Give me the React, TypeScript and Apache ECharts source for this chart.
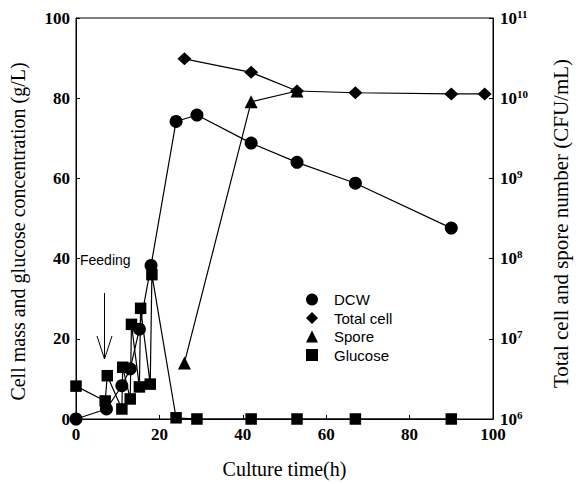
import React, { useEffect, useRef } from "react";
import * as echarts from "echarts";

const dcwTime = [0, 7.3, 11, 13, 15.2, 18, 24, 29, 42, 53, 67, 90];
const dcwValue = [0, 2.5, 8.3, 12.5, 22.4, 38.3, 74.2, 75.8, 68.8, 64, 58.8, 47.6];

const totalTime = [26, 42, 53, 67, 90, 98];
const totalValue = [3.1e10, 2.1e10, 1.23e10, 1.17e10, 1.13e10, 1.13e10];

const sporeTime = [26, 42, 53];
const sporeValue = [5e6, 9e9, 1.23e10];

const glucoseTime = [0, 7, 7.5, 11, 11.2, 13, 13.3, 15.2, 15.5, 17.8, 18.2, 24, 29, 42, 53, 67, 90];
const glucoseValue = [8.2, 4.5, 10.8, 2.5, 12.9, 5, 23.6, 8, 27.6, 8.7, 36, 0.3, 0, 0, 0, 0, 0];

const seriesNames = ["DCW", "Total cell", "Spore", "Glucose"];
const feedingLabel = "Feeding";

const zip = (t: number[], v: number[]) => t.map((x, i) => [x, v[i]]);

export default function App() {
  const ref = useRef<HTMLDivElement>(null);
  useEffect(() => {
    if (!ref.current) return;
    const chart = echarts.init(ref.current, undefined, { renderer: "svg" });
    const serif = "'Liberation Serif', 'Times New Roman', serif";
    const sans = "'Liberation Sans', Arial, sans-serif";
    const lineStyle = { color: "#000", width: 1.2 };
    const itemStyle = { color: "#000" };
    chart.setOption({
      animation: false,
      backgroundColor: "#fff",
      grid: {
        left: 72,
        right: 79,
        top: 18,
        bottom: 64,
        show: true,
        borderColor: "#000",
        borderWidth: 1,
      },
      legend: {
        orient: "vertical",
        left: 301,
        top: 287,
        itemWidth: 12,
        itemHeight: 12,
        itemGap: 3.5,
        textStyle: { fontFamily: sans, fontSize: 15, lineHeight: 14, color: "#000", padding: [0, 0, 0, 11] },
        data: [
          { name: seriesNames[0], icon: "circle" },
          { name: seriesNames[1], icon: "diamond" },
          { name: seriesNames[2], icon: "triangle" },
          { name: seriesNames[3], icon: "rect" },
        ],
      },
      xAxis: {
        type: "value",
        min: 0,
        max: 100,
        interval: 20,
        name: "Culture time(h)",
        nameLocation: "middle",
        nameGap: 40,
        nameTextStyle: { fontFamily: serif, fontSize: 20, color: "#000" },
        axisLine: { lineStyle: { color: "#000", width: 1 } },
        axisTick: { inside: true, length: 4, lineStyle: { color: "#000" } },
        axisLabel: { fontFamily: serif, fontWeight: "bold", fontSize: 17, color: "#000", margin: 7 },
        splitLine: { show: false },
      },
      yAxis: [
        {
          type: "value",
          min: 0,
          max: 100,
          interval: 20,
          name: "Cell mass and glucose concentration (g/L)",
          nameLocation: "middle",
          nameRotate: 90,
          nameGap: 48,
          nameTextStyle: { fontFamily: serif, fontSize: 20, color: "#000", padding: [0, 26, 0, 0] },
          axisLine: { show: true, lineStyle: { color: "#000", width: 1 } },
          axisTick: { inside: true, length: 4, lineStyle: { color: "#000" } },
          axisLabel: { fontFamily: serif, fontWeight: "bold", fontSize: 17, color: "#000", margin: 6 },
          splitLine: { show: false },
        },
        {
          type: "log",
          logBase: 10,
          min: 1e6,
          max: 1e11,
          position: "right",
          name: "Total cell and spore number (CFU/mL)",
          nameLocation: "middle",
          nameRotate: 90,
          nameGap: 57,
          nameTextStyle: { fontFamily: serif, fontSize: 21, color: "#000", padding: [0, 10, 0, 0] },
          axisLine: { show: true, lineStyle: { color: "#000", width: 1 } },
          axisTick: { inside: true, length: 4, lineStyle: { color: "#000" } },
          axisLabel: {
            margin: 7,
            formatter: (v: number) => `{b|10}{s|${Math.round(Math.log10(v))}}`,
            rich: {
              b: { fontFamily: serif, fontWeight: "bold", fontSize: 17, color: "#000", lineHeight: 20 },
              s: { fontFamily: serif, fontWeight: "bold", fontSize: 11, color: "#000", verticalAlign: "top", lineHeight: 12 },
            },
          },
          splitLine: { show: false },
        },
      ],
      graphic: [
        {
          type: "text",
          left: 80,
          top: 253,
          style: { text: feedingLabel, fontFamily: sans, fontSize: 14, fill: "#000" },
        },
        {
          type: "line",
          shape: { x1: 104.5, y1: 293, x2: 104.5, y2: 359 },
          style: { stroke: "#000", lineWidth: 1 },
        },
        {
          type: "polyline",
          shape: { points: [[97, 336], [104.5, 359], [112, 336]] },
          style: { stroke: "#000", lineWidth: 1, fill: "none" },
        },
      ],
      series: [
        {
          name: seriesNames[0],
          type: "line",
          yAxisIndex: 0,
          data: zip(dcwTime, dcwValue),
          symbol: "circle",
          symbolSize: 13,
          lineStyle,
          itemStyle,
          z: 2,
        },
        {
          name: seriesNames[1],
          type: "line",
          yAxisIndex: 1,
          data: zip(totalTime, totalValue),
          symbol: "diamond",
          symbolSize: [14, 13],
          lineStyle,
          itemStyle,
          z: 3,
        },
        {
          name: seriesNames[2],
          type: "line",
          yAxisIndex: 1,
          data: zip(sporeTime, sporeValue),
          symbol: "triangle",
          symbolSize: 13,
          lineStyle,
          itemStyle,
          z: 2,
        },
        {
          name: seriesNames[3],
          type: "line",
          yAxisIndex: 0,
          data: zip(glucoseTime, glucoseValue),
          symbol: "rect",
          symbolSize: 11.5,
          lineStyle,
          itemStyle,
          z: 4,
        },
      ],
    });
    return () => chart.dispose();
  }, []);
  return (
    <div
      ref={ref}
      style={{ position: "absolute", left: 0, top: 0, width: 579, height: 484 }}
    />
  );
}
